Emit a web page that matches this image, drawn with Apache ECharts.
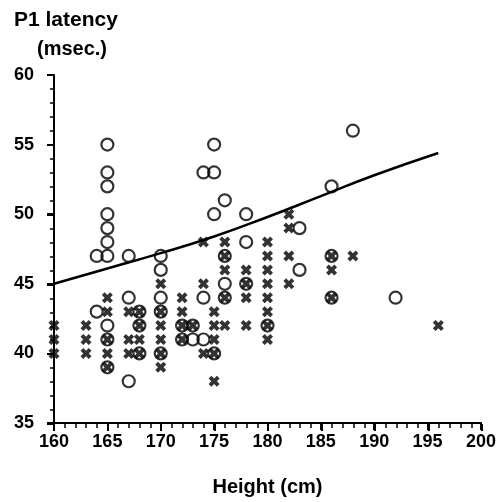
<!DOCTYPE html>
<html>
<head>
<meta charset="utf-8">
<script src="https://cdn.jsdelivr.net/npm/echarts@6/dist/echarts.min.js"></script>
<style>
html, body { margin: 0; padding: 0; background: #fff; }
#chart { width: 499px; height: 502px; }
</style>
</head>
<body>
<div id="chart"></div>
<script>
// crosses: [height, latency]
var crossHeights = [160,160,160, 163,163,163, 165,165,165,165,165, 167,167,167, 168,168,168,168,
    170,170,170,170,170,170, 172,172,172,172, 173, 174,174,174, 175,175,175,175,175,
    176,176,176,176,176, 178,178,178,178, 180,180,180,180,180,180,180,180,
    182,182,182,182, 186,186,186, 188, 196];
var crossLatency = [42,41,40, 42,41,40, 44,43,41,40,39, 43,41,40, 43,42,41,40,
    45,43,42,41,40,39, 44,43,42,41, 42, 48,45,40, 43,42,41,40,38,
    48,47,46,44,42, 46,45,44,42, 48,47,46,45,44,43,42,41,
    50,49,47,45, 47,46,44, 47, 42];

// circles: [height, latency]
var circleHeights = [164,164, 165,165,165,165,165,165,165,165,165,165, 167,167,167, 168,168,168,
    170,170,170,170,170, 172,172, 173,173, 174,174,174, 175,175,175,175,
    176,176,176,176, 178,178,178, 180, 183,183, 186,186,186, 188, 192];
var circleLatency = [47,43, 55,53,52,50,49,48,47,42,41,39, 47,44,38, 43,42,40,
    47,46,44,43,40, 42,41, 42,41, 53,44,41, 55,53,50,40,
    51,47,45,44, 50,48,45, 42, 49,46, 52,47,44, 56, 44];

// fitted curve
var curveHeights = [160, 165, 170, 175, 180, 185, 190, 196];
var curveLatency = [45, 46.1, 47.2, 48.4, 49.8, 51.3, 52.8, 54.4];

function pairs(xs, ys) {
    return xs.map(function (x, i) { return [x, ys[i]]; });
}

var crossPath = 'path://M0,2.5L2.5,0L5,2.5L7.5,0L10,2.5L7.5,5L10,7.5L7.5,10L5,7.5L2.5,10L0,7.5L2.5,5Z';
var font = 'Liberation Sans';
var bigText = { fontFamily: font, fontSize: 21, fontWeight: 'bold', color: '#000' };

// thin strips next to the axes; their split lines act as the tick marks
function tickAxis(dim, grid, min, max, step, width) {
    return {
        type: 'value', gridIndex: grid, min: min, max: max, interval: step,
        axisLine: { show: false }, axisTick: { show: false }, axisLabel: { show: false },
        splitLine: { show: dim, lineStyle: { color: '#000', width: width } }
    };
}

var chart = echarts.init(document.getElementById('chart'));
chart.setOption({
    animation: false,
    title: [{
        text: 'P1 latency',
        left: 9, top: 5,
        textStyle: bigText
    }, {
        text: '(msec.)',
        left: 32, top: 34,
        textStyle: { fontFamily: font, fontSize: 20, fontWeight: 'bold', color: '#000' }
    }],
    grid: [
        { left: 54, right: 17, top: 75, bottom: 78 },
        { left: 47, width: 7, top: 75, bottom: 78 },   // y major ticks
        { left: 50, width: 4, top: 75, bottom: 78 },   // y minor ticks
        { left: 54, right: 17, top: 424, height: 7 },  // x major ticks
        { left: 54, right: 17, top: 424, height: 4 }   // x minor ticks
    ],
    xAxis: [{
        type: 'value',
        min: 160, max: 200, interval: 5,
        name: 'Height (cm)',
        nameLocation: 'middle',
        nameGap: 54,
        nameTextStyle: { fontFamily: font, fontSize: 20, fontWeight: 'bold', color: '#000' },
        axisLine: { show: true, lineStyle: { color: '#000', width: 2 } },
        axisTick: { show: true, length: 7, lineStyle: { color: '#000', width: 2 } },
        axisLabel: { margin: 10, fontFamily: font, fontSize: 18, fontWeight: 'bold', color: '#000' },
        splitLine: { show: false }
    },
        tickAxis(false, 1, 0, 1, 1, 1),
        tickAxis(false, 2, 0, 1, 1, 1),
        tickAxis(true, 3, 160, 200, 5, 2),
        tickAxis(true, 4, 160, 200, 1, 1.5)
    ],
    yAxis: [{
        type: 'value',
        min: 35, max: 60, interval: 5,
        axisLine: { show: true, lineStyle: { color: '#000', width: 2 } },
        axisTick: { show: true, length: 7, lineStyle: { color: '#000', width: 2 } },
        axisLabel: { margin: 20, fontFamily: font, fontSize: 18, fontWeight: 'bold', color: '#000' },
        splitLine: { show: false }
    },
        tickAxis(true, 1, 35, 60, 5, 2),
        tickAxis(true, 2, 35, 60, 1, 1.5),
        tickAxis(false, 3, 0, 1, 1, 1),
        tickAxis(false, 4, 0, 1, 1, 1)
    ],
    series: [{
        type: 'line',
        data: pairs(curveHeights, curveLatency),
        smooth: true,
        showSymbol: false,
        lineStyle: { color: '#000', width: 2.5 }
    }, {
        type: 'scatter',
        data: pairs(crossHeights, crossLatency),
        symbol: crossPath,
        symbolSize: 11,
        itemStyle: { color: '#000' }
    }, {
        type: 'scatter',
        data: pairs(circleHeights, circleLatency),
        symbol: 'circle',
        symbolSize: 12,
        itemStyle: { color: 'rgba(0,0,0,0)', borderColor: '#000', borderWidth: 2.2 }
    }]
});
</script>
</body>
</html>
